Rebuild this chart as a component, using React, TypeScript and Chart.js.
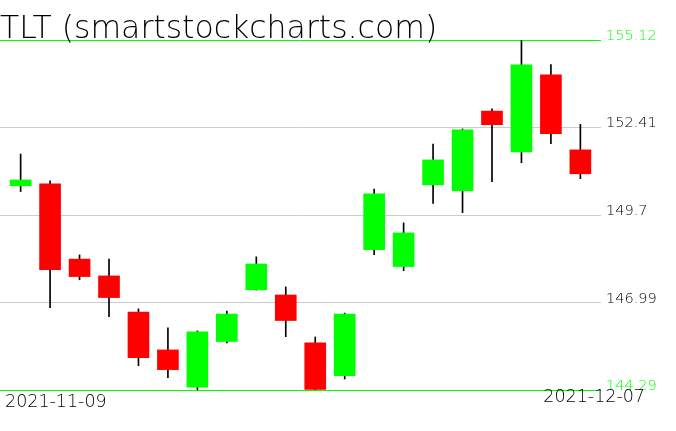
import React, { useEffect, useRef } from "react";
import { Chart, registerables } from "chart.js";

Chart.register(...registerables);

const dates = [
  "2021-11-09", "2021-11-10", "2021-11-11", "2021-11-12", "2021-11-15",
  "2021-11-16", "2021-11-17", "2021-11-18", "2021-11-19", "2021-11-22",
  "2021-11-23", "2021-11-24", "2021-11-26", "2021-11-29", "2021-11-30",
  "2021-12-01", "2021-12-02", "2021-12-03", "2021-12-06", "2021-12-07",
];
const opens = [150.61, 150.67, 148.34, 147.82, 146.70, 145.53, 144.38, 145.79, 147.39, 147.23, 145.75, 144.73, 148.63, 148.11, 150.64, 150.46, 152.92, 151.66, 154.04, 151.72];
const closes = [150.79, 148.01, 147.80, 147.15, 145.29, 144.92, 146.09, 146.64, 148.19, 146.44, 144.31, 146.64, 150.36, 149.15, 151.41, 152.34, 152.50, 154.35, 152.22, 150.98];
const highs = [151.59, 150.76, 148.47, 148.34, 146.80, 146.21, 146.12, 146.73, 148.41, 147.48, 145.93, 146.67, 150.51, 149.46, 151.90, 152.37, 152.99, 155.12, 154.36, 152.51];
const lows = [150.43, 146.84, 147.70, 146.56, 145.04, 144.67, 144.29, 145.75, 147.38, 145.94, 144.29, 144.63, 148.48, 147.98, 150.06, 149.78, 150.74, 151.32, 151.91, 150.83];
const yTicks = [144.29, 146.99, 149.7, 152.41, 155.12];
const title = "TLT (smartstockcharts.com)";

const UP = "#00ff00";
const DOWN = "#ff0000";
const SANS = "'DejaVu Sans', sans-serif";

export default function App() {
  const ref = useRef<HTMLCanvasElement | null>(null);

  useEffect(() => {
    const canvas = ref.current;
    if (!canvas) return;
    const last = yTicks.length - 1;

    const dateLabels = {
      id: "dateLabels",
      afterDraw(chart: any) {
        const { ctx, chartArea } = chart;
        ctx.save();
        ctx.fillStyle = "#000";
        ctx.font = `200 17.5px ${SANS}`;
        ctx.textBaseline = "top";
        ctx.textAlign = "left";
        ctx.fillText(dates[0], chartArea.left + 5, chartArea.bottom + 4);
        ctx.textAlign = "right";
        ctx.fillText(dates[dates.length - 1], chartArea.right + 44, chartArea.bottom - 1);
        ctx.restore();
      },
    };

    const chart = new Chart(canvas, {
      type: "bar",
      data: {
        datasets: [
          {
            label: "body",
            data: dates.map((_, i) => ({ x: i, y: [opens[i], closes[i]] })) as any,
            backgroundColor: dates.map((_, i) => (closes[i] >= opens[i] ? UP : DOWN)),
            borderWidth: 0,
            barThickness: 21,
            grouped: false,
            order: 1,
          },
          {
            label: "wick",
            data: dates.map((_, i) => ({ x: i, y: [lows[i], highs[i]] })) as any,
            backgroundColor: "#000000",
            borderWidth: 0,
            barThickness: 1,
            grouped: false,
            order: 2,
          },
        ],
      },
      options: {
        animation: false,
        responsive: false,
        layout: { padding: { left: 0, right: 0, top: 0, bottom: 41 } },
        plugins: {
          legend: { display: false },
          tooltip: { enabled: false },
          title: {
            display: true,
            text: title,
            align: "start",
            color: "#000",
            font: { family: SANS, size: 31.5, weight: "200", lineHeight: "21px" },
            padding: { top: 19, bottom: 0 },
          },
        },
        scales: {
          x: {
            type: "linear",
            display: false,
            offset: false,
            min: -0.7,
            max: dates.length - 1 + 0.7,
          },
          y: {
            type: "linear",
            position: "right",
            min: yTicks[0],
            max: yTicks[last],
            afterBuildTicks: (scale: any) => {
              scale.ticks = yTicks.map((v) => ({ value: v }));
            },
            afterFit: (scale: any) => {
              scale.width = 75;
            },
            border: { display: false },
            grid: {
              drawTicks: false,
              lineWidth: 1,
              color: (c: any) => (c.index === 0 || c.index === last ? UP : "#cccccc"),
            },
            ticks: {
              padding: 5,
              labelOffset: -4,
              font: { family: SANS, size: 14.5, weight: "200" },
              color: (c: any) => (c.index === 0 || c.index === last ? UP : "#000000"),
              callback: (v: any) => String(v),
            },
          },
        },
      },
      plugins: [dateLabels],
    });

    return () => chart.destroy();
  }, []);

  return (
    <canvas
      ref={ref}
      width={676}
      height={431}
      style={{ position: "fixed", left: 0, top: 0, display: "block", background: "#fff" }}
    />
  );
}
